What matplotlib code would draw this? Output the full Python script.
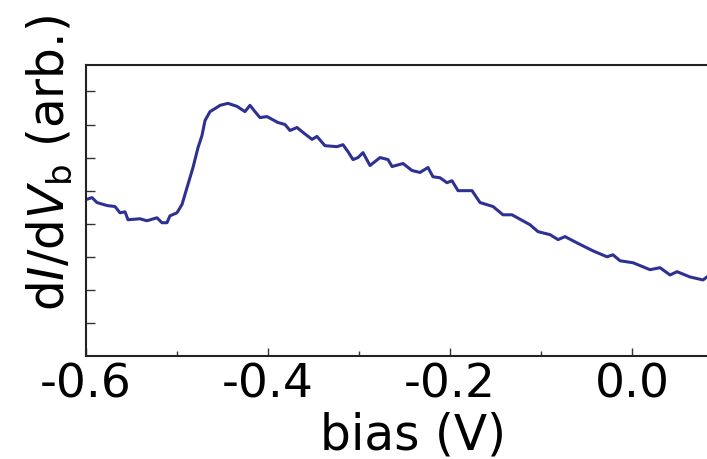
import numpy as np
from matplotlib import pyplot as plt
from matplotlib.ticker import MultipleLocator

# dI/dV spectrum, bias in volts, conductance in arbitrary units
bias = [-0.600, -0.5934, -0.5879, -0.5769, -0.5681, -0.5626, -0.5571, -0.5538,
        -0.5407, -0.5330, -0.5220, -0.5165, -0.5110, -0.5077, -0.5000, -0.4945,
        -0.4890, -0.4824, -0.4769, -0.4725, -0.4692, -0.4637, -0.4560, -0.4527,
        -0.4440, -0.4341, -0.4253, -0.4198, -0.4143, -0.4088, -0.4011, -0.3890,
        -0.3813, -0.3758, -0.3681, -0.3615, -0.3516, -0.3462, -0.3374, -0.3242,
        -0.3176, -0.3121, -0.3066, -0.3011, -0.2956, -0.2879, -0.2769, -0.2681,
        -0.2637, -0.2516, -0.2418, -0.2330, -0.2242, -0.2187, -0.2110, -0.2033,
        -0.1978, -0.1912, -0.1758, -0.1670, -0.1527, -0.1418, -0.1319, -0.1121,
        -0.1033, -0.0901, -0.0813, -0.0736, -0.0604, -0.0429, -0.0275, -0.0209,
        -0.0132, 0.0011, 0.0198, 0.0308, 0.0418, 0.0495, 0.0637, 0.0780, 0.0824]
didv = [4.73, 4.79, 4.64, 4.55, 4.52, 4.33, 4.36, 4.12,
        4.15, 4.09, 4.18, 4.03, 4.03, 4.24, 4.33, 4.58,
        5.09, 5.70, 6.30, 6.67, 7.12, 7.39, 7.52, 7.58,
        7.64, 7.55, 7.39, 7.58, 7.39, 7.21, 7.24, 7.06,
        7.00, 6.82, 6.91, 6.76, 6.55, 6.64, 6.36, 6.33,
        6.39, 6.18, 5.94, 6.00, 6.15, 5.76, 6.00, 5.94,
        5.73, 5.82, 5.61, 5.55, 5.70, 5.42, 5.39, 5.24,
        5.30, 5.00, 5.00, 4.64, 4.52, 4.27, 4.27, 3.97,
        3.76, 3.67, 3.52, 3.61, 3.42, 3.18, 3.00, 3.06,
        2.88, 2.82, 2.61, 2.67, 2.45, 2.55, 2.39, 2.30, 2.39]

xtick_vals = [-0.6, -0.4, -0.2, 0.0]
xtick_labels = ["-0.6", "-0.4", "-0.2", "0.0"]

fig = plt.figure(figsize=(7.07, 4.59), dpi=100)
ax = fig.add_axes([0.1216, 0.2244, 0.8784, 0.634])

ax.plot(bias, didv, color="#2e3192", lw=2.2)

ax.set_xlim(-0.6, 0.0824)
ax.set_ylim(0, 8.8)
ax.set_xticks(xtick_vals)
ax.set_xticklabels(xtick_labels)
ax.xaxis.set_minor_locator(MultipleLocator(0.1))
ax.set_yticks(np.arange(1, 9))
ax.set_yticklabels([])

for side in ["left", "top", "bottom"]:
    ax.spines[side].set_linewidth(1.5)
    ax.spines[side].set_color("#222222")
ax.spines["right"].set_visible(False)

ax.tick_params(which="major", direction="in", length=6, width=1, color="#333333",
               labelsize=34, pad=5)
ax.tick_params(which="minor", direction="in", length=3.5, width=1, color="#333333")
ax.tick_params(axis="y", length=6.5)

ax.set_xlabel("bias (V)", fontsize=35)
ax.set_ylabel(r"d$I$/d$V_\mathrm{b}$ (arb.)", fontsize=35)
ax.xaxis.set_label_coords(0.527, -0.192)
ax.yaxis.set_label_coords(-0.0185, 0.663)

fig.savefig("out.png", dpi=100)
